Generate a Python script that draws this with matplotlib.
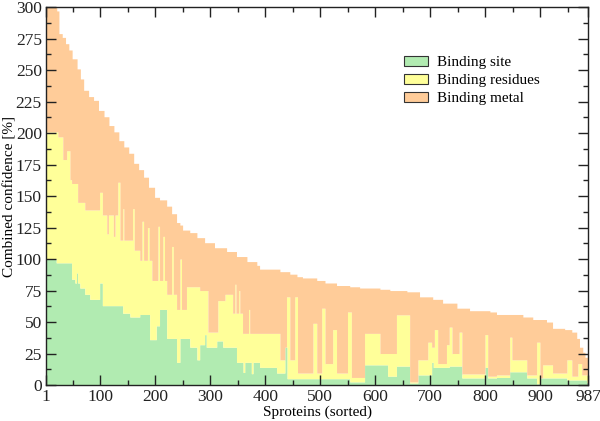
import numpy as np
import matplotlib
matplotlib.use("Agg")
import matplotlib.pyplot as plt
from matplotlib.patches import Patch
from matplotlib.ticker import MultipleLocator, FixedLocator

# proteins sorted by combined confidence; each layer given as runs:
# a run starts at the listed protein index and holds the value until the next start
n_proteins = 987

total_start = [1, 21, 25, 31, 37, 43, 49, 58, 64, 70, 79, 88, 97, 107, 116, 125, 134,
               143, 152, 161, 170, 179, 188, 199, 208, 221, 230, 239, 245, 250, 263,
               276, 290, 308, 330, 348, 367, 385, 390, 427, 445, 458, 468, 494, 509,
               530, 554, 572, 609, 627, 658, 681, 705, 723, 749, 772, 809, 821, 869,
               887, 912, 923, 945, 958, 967, 972, 978, 982]
total_value = [300, 297, 279, 276, 271, 266, 259, 251, 243, 234, 229, 226, 218, 213,
               206, 201, 194, 189, 184, 176, 171, 165, 157, 149, 147, 142, 136, 129,
               127, 123, 121, 117, 113, 109, 106, 102, 98, 95, 92, 90, 88, 86, 85, 83,
               81, 79, 78, 77, 76, 75, 74, 70, 68, 65, 61, 59, 58, 56, 54, 52, 50, 45,
               44, 42, 37, 30, 26, 22]

# top of the yellow layer (binding site + binding residues)
upper_start = [1, 23, 32, 39, 45, 48, 59, 72, 81, 99, 104, 112, 115, 124, 127, 132,
               136, 141, 143, 159, 162, 172, 176, 179, 186, 189, 194, 205, 208, 214,
               217, 221, 230, 233, 239, 245, 248, 257, 281, 296, 314, 327, 341, 345,
               347, 352, 354, 359, 370, 372, 390, 427, 439, 445, 454, 459, 487, 494,
               503, 509, 523, 530, 550, 557, 581, 609, 639, 663, 678, 696, 703, 708,
               714, 730, 735, 740, 753, 758, 800, 805, 821, 845, 849, 876, 894, 900,
               905, 923, 949, 958, 969, 976]
upper_value = [201, 197, 179, 186, 163, 160, 145, 139, 139, 153, 135, 120, 135, 118,
               135, 161, 115, 140, 115, 140, 107, 99, 130, 99, 125, 99, 83, 126, 83,
               118, 83, 72, 110, 72, 60, 100, 60, 78, 75, 42, 67, 72, 57, 80, 57, 75,
               57, 41, 60, 41, 41, 20, 70, 20, 70, 9.5, 49, 9.5, 61, 17, 44, 9.5, 58,
               6, 41, 25, 55.7, 2.5, 20, 34, 30, 44, 17, 32, 46, 25, 42, 8.8, 40, 7, 8,
               38, 20, 8, 34, 5.6, 16, 9.5, 20, 7, 17, 8]

# binding site (green)
site_start = [1, 20, 48, 54, 57, 59, 63, 72, 81, 99, 104, 141, 154, 172, 190, 202,
              208, 221, 239, 245, 263, 276, 281, 290, 293, 312, 323, 348, 360, 363,
              375, 378, 390, 421, 436, 440, 554, 581, 623, 639, 663, 678, 703, 706,
              735, 758, 800, 805, 821, 845, 876, 894, 900, 949, 985]
site_value = [100, 97, 84, 81, 89, 81, 77, 72, 68, 81, 63, 57, 54, 56, 36, 47, 60, 37,
              18, 37, 30, 20, 32, 40, 30, 35, 30, 18, 10, 18, 9, 18, 14, 9.5, 30, 5,
              2.5, 16, 7, 15, 1.6, 8, 18, 14, 15, 5.6, 14, 5.6, 6, 10.5, 5.6, 1, 5.6,
              4, 2]

labels = ["Binding site", "Binding residues", "Binding metal"]
colors = ["#b1ebb1", "#ffff99", "#ffcc99"]
x_ticks = [1, 100, 200, 300, 400, 500, 600, 700, 800, 900, 987]


def expand(starts, values, n=n_proteins):
    out = np.zeros(n)
    ends = list(starts[1:]) + [n + 1]
    for s, e, v in zip(starts, ends, values):
        out[s - 1:e - 1] = v
    return out


site = expand(site_start, site_value)
upper = np.maximum(expand(upper_start, upper_value), site)
total = np.maximum(expand(total_start, total_value), upper)

plt.rcParams['font.family'] = ['Liberation Serif', 'DejaVu Serif']

fig = plt.figure(figsize=(6.0, 4.21), dpi=100)
ax = fig.add_axes([0.0767, 0.0855, 0.9033, 0.8975])

# one bar per protein, drawn as step areas so neighbouring bars leave no seams
edges = np.arange(0.5, n_proteins + 1.5)
bottoms = [np.zeros(n_proteins), site, upper]
tops = [site, upper, total]
for lo, hi, c in zip(bottoms, tops, colors):
    ax.fill_between(edges, np.append(lo, lo[-1]), np.append(hi, hi[-1]),
                    step='post', color=c, lw=0)

ax.set_xlim(1, n_proteins)
ax.set_ylim(0, 300)
ax.xaxis.set_major_locator(FixedLocator(x_ticks))
ax.set_xticklabels([str(t) for t in x_ticks])
ax.xaxis.set_minor_locator(FixedLocator(np.arange(50, 987, 100)))
ax.yaxis.set_major_locator(MultipleLocator(25))
ax.yaxis.set_minor_locator(MultipleLocator(12.5))
ax.tick_params(which='both', direction='in', top=True, right=True,
               labelsize=12.5, width=1.0, colors='#222222', pad=3)
ax.tick_params(which='major', length=7)
ax.tick_params(which='minor', length=3.5)
for sp in ax.spines.values():
    sp.set_linewidth(1.0)
    sp.set_color('#222222')

ax.set_xlabel("Sproteins (sorted)", fontsize=11, labelpad=0)
ax.set_ylabel("Combined confidence [%]", fontsize=11)
ax.yaxis.set_label_coords(-0.055, 0.5)

handles = [Patch(facecolor=c, edgecolor='#333333', lw=0.8) for c in colors]
ax.legend(handles, labels, loc='upper left', bbox_to_anchor=(0.6605, 0.871),
          frameon=False, fontsize=11, handlelength=1.57, handleheight=0.62,
          handletextpad=0.6, labelspacing=0.31, borderpad=0, borderaxespad=0)

fig.savefig("out.png", dpi=100)
